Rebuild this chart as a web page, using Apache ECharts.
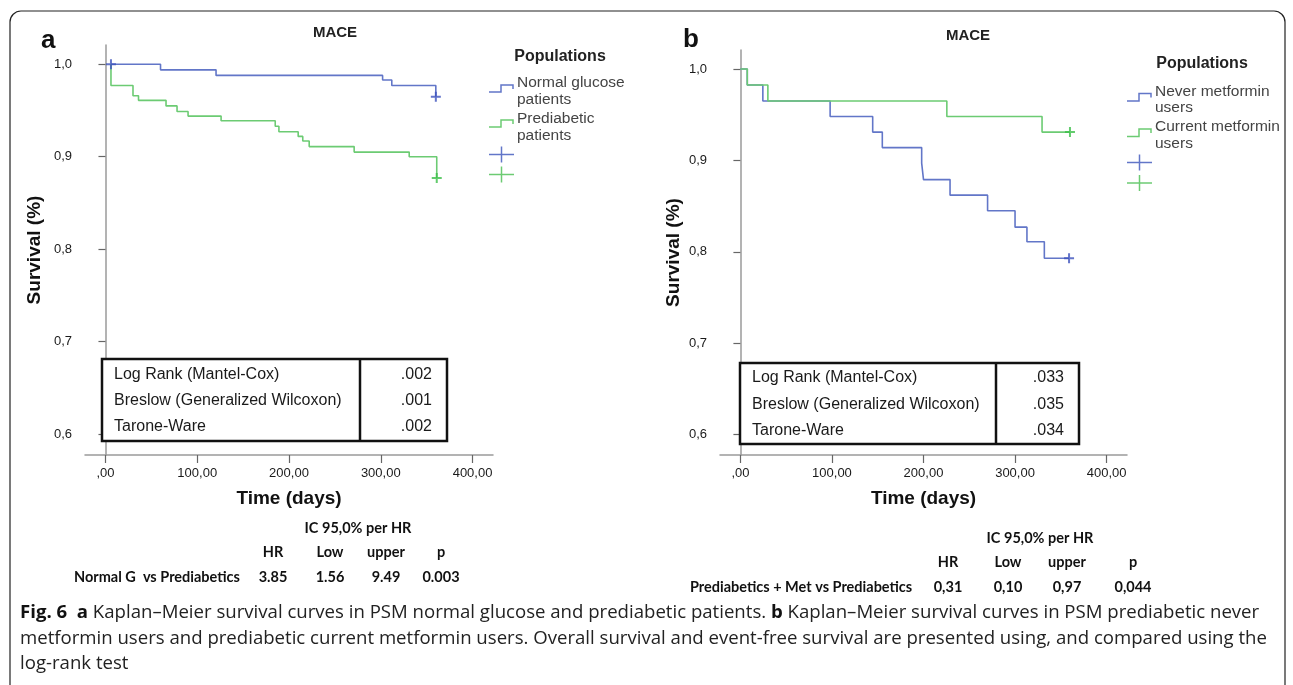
<!DOCTYPE html>
<html>
<head>
<meta charset="utf-8">
<script src="https://cdn.jsdelivr.net/npm/echarts@6/dist/echarts.min.js"></script>
<style>
html,body{margin:0;padding:0;background:#fff;}
#chart{width:1293px;height:685px;}
</style>
</head>
<body>
<div id="chart"></div>
<script>
// ---------- DATA ----------
const xTickValues = [0, 100, 200, 300, 400];
const yTickValues = [0.6, 0.7, 0.8, 0.9, 1.0];

// Panel a: Normal glucose patients (event times, survival after event)
const aNormalT = [6, 60, 120.5, 302, 312, 360];
const aNormalS = [1.0, 0.994, 0.988, 0.983, 0.977, 0.965];
const aNormalCensT = [6, 360];
const aNormalCensS = [1.0, 0.965];
// Panel a: Prediabetic patients
const aPreT = [6, 6, 30, 36, 66, 78, 90, 126, 185, 189, 210, 215, 222, 271, 331, 361];
const aPreS = [1.0, 0.977, 0.966, 0.961, 0.955, 0.949, 0.944, 0.939, 0.933, 0.927, 0.922, 0.917, 0.911, 0.905, 0.900, 0.877];
const aPreCensT = [361];
const aPreCensS = [0.877];

// Panel b: Never metformin users
const bNeverT = [0, 7.5, 24.5, 98, 144.5, 155, 198, 200, 229, 270, 300, 313, 332, 359];
const bNeverS = [1.0, 0.9825, 0.965, 0.948, 0.931, 0.914, 0.897, 0.879, 0.862, 0.845, 0.827, 0.811, 0.793, 0.793];
const bNeverCensT = [359];
const bNeverCensS = [0.793];
// Panel b: Current metformin users
const bCurT = [0, 7.5, 30, 225.5, 329.5, 360];
const bCurS = [1.0, 0.9825, 0.965, 0.948, 0.931, 0.931];
const bCurCensT = [360];
const bCurCensS = [0.931];

// Legend labels
const aLegendNames = ['Normal glucose\npatients', 'Prediabetic\npatients'];
const bLegendNames = ['Never metformin\nusers', 'Current metformin\nusers'];

// Test tables
const testNames = ['Log Rank (Mantel-Cox)', 'Breslow (Generalized Wilcoxon)', 'Tarone-Ware'];
const aTestP = ['.002', '.001', '.002'];
const bTestP = ['.033', '.035', '.034'];

// HR tables
const hrHeader = ['HR', 'Low', 'upper', 'p'];
const aHrLabel = 'Normal G  vs Prediabetics';
const aHrValues = ['3.85', '1.56', '9.49', '0.003'];
const bHrLabel = 'Prediabetics + Met vs Prediabetics';
const bHrValues = ['0,31', '0,10', '0,97', '0,044'];

// ---------- STYLE ----------
const BLUE = '#6276c8';
const BLUE_D = '#3d52bd';
const GREEN = '#6ccb73';
const GREEN_D = '#3cbf48';
const FONT = '"Liberation Sans", Arial, sans-serif';
const CAL = 'Lato, "Open Sans", sans-serif';
const CAPF = '"Open Sans", Lato, sans-serif';
const PLUS = 'path://M4,0H6V4H10V6H6V10H4V6H0V4H4Z';

function pairs(t, s) { return t.map((v, i) => [v, s[i]]); }
function fmtX(v) { return v === 0 ? ',00' : (v.toFixed(2)).replace('.', ','); }
function fmtY(v) { return v.toFixed(1).replace('.', ','); }

function xAxisDef(gi) {
  return {
    gridIndex: gi, type: 'value', min: -22.3, max: 422.3,
    name: 'Time (days)', nameLocation: 'middle', nameGap: 34,
    nameTextStyle: { fontFamily: FONT, fontWeight: 'bold', fontSize: 19, color: '#111' },
    axisLine: { lineStyle: { color: '#9a9a9a', width: 1.5 } },
    axisTick: { customValues: xTickValues, length: 8, lineStyle: { color: '#666', width: 1.2 } },
    axisLabel: { customValues: xTickValues, formatter: fmtX, fontFamily: FONT, fontSize: 13, color: '#1a1a1a', margin: 12 },
    splitLine: { show: false }
  };
}
function yAxisDef(gi, min, max, gap) {
  return {
    gridIndex: gi, type: 'value', min: min, max: max,
    name: 'Survival (%)', nameLocation: 'middle', nameGap: gap, nameRotate: 90,
    nameTextStyle: { fontFamily: FONT, fontWeight: 'bold', fontSize: 19, color: '#111' },
    axisLine: { lineStyle: { color: '#9a9a9a', width: 1.5 } },
    axisTick: { customValues: yTickValues, length: 7, lineStyle: { color: '#666', width: 1.2 } },
    axisLabel: { customValues: yTickValues, formatter: fmtY, fontFamily: FONT, fontSize: 13, color: '#1a1a1a', margin: 13 },
    splitLine: { show: false }
  };
}
function stepSeries(gi, t, s, color) {
  return {
    type: 'line', xAxisIndex: gi, yAxisIndex: gi, step: 'end', data: pairs(t, s),
    showSymbol: false, symbol: 'none', lineStyle: { color: color, width: 1.6 }, silent: true, animation: false, z: 3
  };
}
function censSeries(gi, t, s, color) {
  return {
    type: 'scatter', xAxisIndex: gi, yAxisIndex: gi, data: pairs(t, s),
    symbol: PLUS, symbolSize: 10, itemStyle: { color: color }, silent: true, animation: false, z: 4
  };
}

// ---------- GRAPHICS (annotations) ----------
const G = [];
function txt(x, y, text, o) {
  o = o || {};
  G.push({ type: 'text', x: x, y: y, silent: true, z: 10, style: Object.assign({
    text: text, fill: o.fill || '#222', font: o.font || ('13px ' + FONT),
    textAlign: o.align || 'left', align: o.align || 'left',
    textVerticalAlign: 'middle', verticalAlign: 'middle', lineHeight: o.lineHeight
  }, o.extra || {}) });
}
function line(x1, y1, x2, y2, color, w) {
  G.push({ type: 'line', silent: true, z: 10, shape: { x1: x1, y1: y1, x2: x2, y2: y2 }, style: { stroke: color, lineWidth: w || 1.5 } });
}
function poly(points, color, w) {
  G.push({ type: 'polyline', silent: true, z: 10, shape: { points: points }, style: { stroke: color, lineWidth: w || 1.5, fill: null } });
}

// outer frame
G.push({ type: 'rect', silent: true, z: 1, shape: { x: 10, y: 11, width: 1275, height: 700, r: 11 }, style: { stroke: '#222', lineWidth: 1.2, fill: null } });

// panel letters and titles
txt(41, 41, 'a', { font: 'bold 26px ' + FONT, fill: '#111' });
txt(683, 40, 'b', { font: 'bold 26px ' + FONT, fill: '#111' });
txt(335, 33, 'MACE', { font: 'bold 15px ' + FONT, align: 'center', fill: '#222' });
txt(968, 36, 'MACE', { font: 'bold 15px ' + FONT, align: 'center', fill: '#222' });

// legends
function legend(cx, yTitle, iconX, rows, names, plusY) {
  txt(cx, yTitle, 'Populations', { font: 'bold 16px ' + FONT, align: 'center', fill: '#222' });
  const colors = [BLUE, GREEN];
  rows.forEach((r, i) => {
    poly([[iconX, r.low], [iconX + 12, r.low], [iconX + 12, r.high], [iconX + 24, r.high], [iconX + 24, r.high + 4]], colors[i], 1.5);
    txt(iconX + 28, r.text, names[i], { font: '15.5px ' + FONT, fill: '#444', lineHeight: 16.5, extra: { verticalAlign: 'top', textVerticalAlign: 'top' } });
  });
  plusY.forEach((py, i) => {
    line(iconX, py, iconX + 25, py, colors[i], 1.5);
    line(iconX + 12.5, py - 8, iconX + 12.5, py + 8, colors[i], 1.5);
  });
}
legend(560, 57, 489, [{ low: 92, high: 85, text: 74.5 }, { low: 127, high: 120, text: 110.5 }], aLegendNames, [154.5, 174.5]);
legend(1202, 64, 1127, [{ low: 101, high: 93.5, text: 83 }, { low: 136.5, high: 129, text: 118.5 }], bLegendNames, [162.5, 183]);

// test tables
function testTable(x, y, w, h, div, textX, rowsY, valX, vals) {
  G.push({ type: 'rect', silent: true, z: 10, shape: { x: x, y: y, width: w, height: h }, style: { stroke: '#111', lineWidth: 2.5, fill: '#fff' } });
  line(div, y, div, y + h, '#111', 2.5);
  testNames.forEach((n, i) => {
    txt(textX, rowsY[i], n, { font: '16px ' + FONT, fill: '#1a1a1a' });
    txt(valX, rowsY[i], vals[i], { font: '16px ' + FONT, fill: '#1a1a1a', align: 'right' });
  });
}
testTable(102, 359, 345, 82, 360, 114, [375, 401, 427], 432, aTestP);
testTable(740, 363, 339, 81, 996, 752, [378, 404.5, 431], 1064, bTestP);

// HR stats blocks
function hrBlock(icX, icY, hY, rY, labelX, label, cols, vals) {
  const f = 'bold 14.5px ' + CAL;
  txt(icX, icY, 'IC 95,0% per HR', { font: f, align: 'center', fill: '#111' });
  hrHeader.forEach((h, i) => txt(cols[i], hY, h, { font: f, align: 'center', fill: '#111' }));
  txt(labelX, rY, label, { font: f, fill: '#111' });
  vals.forEach((v, i) => txt(cols[i], rY, v, { font: f, align: 'center', fill: '#111' }));
}
hrBlock(358, 528, 552, 577, 74, aHrLabel, [273, 330, 386, 441], aHrValues);
hrBlock(1040, 538, 562, 587, 690, bHrLabel, [948, 1008, 1067, 1133], bHrValues);

// caption
const CAPSZ = 18.6;
const capRich = { b: { fontFamily: CAPF, fontWeight: 'bold', fontSize: CAPSZ, fill: '#111', color: '#111' } };
function cap(y, text) {
  G.push({ type: 'text', x: 20, y: y, silent: true, z: 10, style: {
    text: text, rich: capRich, fontFamily: CAPF, fontSize: CAPSZ, fill: '#222',
    textVerticalAlign: 'middle', verticalAlign: 'middle', align: 'left', textAlign: 'left' } });
}
cap(613, '{b|Fig. 6}  {b|a} Kaplan–Meier survival curves in PSM normal glucose and prediabetic patients. {b|b} Kaplan–Meier survival curves in PSM prediabetic never');
cap(639, 'metformin users and prediabetic current metformin users. Overall survival and event-free survival are presented using, and compared using the');
cap(664, 'log-rank test');

// ---------- CHART ----------
const chart = echarts.init(document.getElementById('chart'), null, { renderer: 'canvas' });
chart.setOption({
  animation: false,
  backgroundColor: '#fff',
  grid: [
    { left: 85, top: 45, width: 408, height: 410 },
    { left: 720, top: 50, width: 407, height: 405 }
  ],
  xAxis: [xAxisDef(0), xAxisDef(1)],
  yAxis: [yAxisDef(0, 0.5773, 1.0209, 41), yAxisDef(1, 0.5777, 1.0208, 37)],
  series: [
    stepSeries(0, aNormalT, aNormalS, BLUE),
    stepSeries(0, aPreT, aPreS, GREEN),
    censSeries(0, aNormalCensT, aNormalCensS, BLUE_D),
    censSeries(0, aPreCensT, aPreCensS, GREEN_D),
    stepSeries(1, bNeverT, bNeverS, BLUE),
    stepSeries(1, bCurT, bCurS, GREEN),
    censSeries(1, bNeverCensT, bNeverCensS, BLUE_D),
    censSeries(1, bCurCensT, bCurCensS, GREEN_D)
  ],
  graphic: G
});
</script>
</body>
</html>
